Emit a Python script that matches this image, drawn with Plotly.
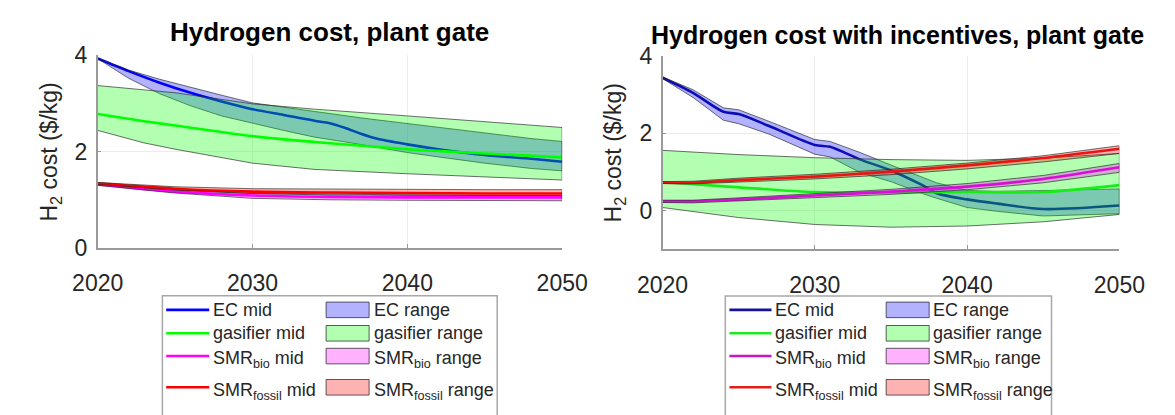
import plotly.graph_objects as go

# ---------------- data: left panel (plant gate) ----------------
L_EC_YEARS = [2020, 2022, 2024, 2026, 2028, 2030, 2032, 2034, 2035, 2036, 2037, 2038, 2040, 2042, 2045, 2048, 2050]
L_EC_MID = [3.93, 3.67, 3.43, 3.22, 3.04, 2.88, 2.76, 2.64, 2.59, 2.49, 2.37, 2.27, 2.15, 2.05, 1.93, 1.85, 1.79]
L_EC_HIGH = [3.93, 3.69, 3.50, 3.33, 3.17, 3.01, 2.92, 2.82, 2.78, 2.74, 2.70, 2.66, 2.58, 2.50, 2.38, 2.27, 2.21]
L_EC_LOW = [3.93, 3.52, 3.20, 2.95, 2.74, 2.59, 2.44, 2.30, 2.25, 2.20, 2.15, 2.09, 1.98, 1.89, 1.76, 1.65, 1.60]

L_GAS_YEARS = [2020, 2023, 2025, 2030, 2034, 2040, 2045, 2050]
L_GAS_MID = [2.78, 2.63, 2.54, 2.32, 2.20, 2.05, 1.96, 1.88]
L_GAS_HIGH = [3.37, 3.28, 3.22, 2.99, 2.88, 2.74, 2.62, 2.50]
L_GAS_LOW = [2.44, 2.18, 2.05, 1.76, 1.63, 1.54, 1.47, 1.41]

L_SMR_YEARS = [2020, 2025, 2030, 2035, 2040, 2045, 2050]
L_BIO_MID = [1.32, 1.17, 1.09, 1.06, 1.05, 1.05, 1.05]
L_BIO_HIGH = [1.34, 1.21, 1.13, 1.10, 1.09, 1.09, 1.09]
L_BIO_LOW = [1.30, 1.14, 1.03, 1.00, 0.99, 0.98, 0.98]
L_FOS_MID = [1.34, 1.23, 1.17, 1.15, 1.14, 1.13, 1.13]
L_FOS_HIGH = [1.36, 1.27, 1.23, 1.22, 1.21, 1.21, 1.21]
L_FOS_LOW = [1.32, 1.20, 1.13, 1.11, 1.10, 1.09, 1.09]

# ---------------- data: right panel (with incentives) ----------------
R_EC_YEARS = [2020, 2022, 2024, 2025, 2027, 2030, 2031, 2033, 2035, 2037, 2038, 2040, 2042, 2045, 2050]
R_EC_MID = [3.44, 3.05, 2.56, 2.50, 2.19, 1.70, 1.65, 1.32, 1.04, 0.67, 0.45, 0.29, 0.18, 0.04, 0.13]
R_EC_HIGH = [3.46, 3.13, 2.66, 2.61, 2.31, 1.84, 1.79, 1.50, 1.18, 0.86, 0.72, 0.52, 0.50, 0.52, 0.56]
R_EC_LOW = [3.42, 2.93, 2.34, 2.25, 1.98, 1.46, 1.39, 0.98, 0.75, 0.45, 0.32, 0.08, -0.02, -0.14, -0.08]

R_GAS_YEARS = [2020, 2025, 2030, 2035, 2040, 2045, 2050]
R_GAS_MID = [0.74, 0.60, 0.48, 0.47, 0.48, 0.48, 0.66]
R_GAS_HIGH = [1.56, 1.45, 1.37, 1.32, 1.30, 1.36, 1.48]
R_GAS_LOW = [0.08, -0.18, -0.36, -0.43, -0.40, -0.29, -0.10]

R_SMR_YEARS = [2020, 2022, 2025, 2030, 2035, 2040, 2045, 2050]
R_BIO_MID = [0.24, 0.24, 0.29, 0.39, 0.49, 0.62, 0.82, 1.12]
R_BIO_HIGH = [0.27, 0.27, 0.33, 0.44, 0.55, 0.70, 0.91, 1.22]
R_BIO_LOW = [0.21, 0.20, 0.24, 0.33, 0.42, 0.54, 0.72, 0.99]
R_FOS_MID = [0.72, 0.72, 0.79, 0.88, 1.01, 1.17, 1.36, 1.60]
R_FOS_HIGH = [0.75, 0.76, 0.84, 0.94, 1.07, 1.23, 1.42, 1.68]
R_FOS_LOW = [0.70, 0.69, 0.74, 0.82, 0.93, 1.08, 1.26, 1.48]

TITLES = ["Hydrogen cost, plant gate", "Hydrogen cost with incentives, plant gate"]
Y_TITLE = "H<sub>2</sub> cost ($/kg)"
X_TICKS = [2020, 2030, 2040, 2050]
L_Y_TICKS = [0, 2, 4]
R_Y_TICKS = [0, 2, 4]
NAMES = ["EC", "gasifier", "SMR<sub>bio</sub>", "SMR<sub>fossil</sub>"]

# ---------------- styling ----------------
W, H = 1175, 415
FONT = "Liberation Sans, Arial, Helvetica, sans-serif"
TXT = "#262626"
FILLS = ["rgba(0,0,255,0.3)", "rgba(0,255,0,0.3)", "rgba(255,0,255,0.3)", "rgba(255,0,0,0.3)"]
L_LINES = ["#0000ff", "#00ff00", "#ff00ff", "#ff0000"]
R_LINES = ["#14149a", "#22e622", "#c814c8", "#e01e1e"]
EDGE = "rgba(40,40,40,0.75)"

fig = go.Figure()


def add_series(years, mid, low, high, name, color, fill, xa, ya):
    fig.add_trace(go.Scatter(
        x=years, y=mid, mode="lines", name=name + " mid", showlegend=False,
        line=dict(color=color, width=2.6, shape="spline", smoothing=0.8),
        xaxis=xa, yaxis=ya, hoverinfo="skip"))
    fig.add_trace(go.Scatter(
        x=list(years) + list(years)[::-1], y=list(high) + list(low)[::-1],
        mode="lines", fill="toself", fillcolor=fill, name=name + " range", showlegend=False,
        line=dict(color=EDGE, width=0.9),
        xaxis=xa, yaxis=ya, hoverinfo="skip"))


left_sets = [
    (L_EC_YEARS, L_EC_MID, L_EC_LOW, L_EC_HIGH),
    (L_GAS_YEARS, L_GAS_MID, L_GAS_LOW, L_GAS_HIGH),
    (L_SMR_YEARS, L_BIO_MID, L_BIO_LOW, L_BIO_HIGH),
    (L_SMR_YEARS, L_FOS_MID, L_FOS_LOW, L_FOS_HIGH),
]
right_sets = [
    (R_EC_YEARS, R_EC_MID, R_EC_LOW, R_EC_HIGH),
    (R_GAS_YEARS, R_GAS_MID, R_GAS_LOW, R_GAS_HIGH),
    (R_SMR_YEARS, R_BIO_MID, R_BIO_LOW, R_BIO_HIGH),
    (R_SMR_YEARS, R_FOS_MID, R_FOS_LOW, R_FOS_HIGH),
]
for i, (yrs, m, lo, hi) in enumerate(left_sets):
    add_series(yrs, m, lo, hi, NAMES[i], L_LINES[i], FILLS[i], "x", "y")
for i, (yrs, m, lo, hi) in enumerate(right_sets):
    add_series(yrs, m, lo, hi, NAMES[i], R_LINES[i], FILLS[i], "x2", "y2")


def xaxis_style(dom, anchor):
    return dict(domain=[dom[0] / W, dom[1] / W], anchor=anchor, range=[2020, 2050],
                tickvals=X_TICKS, ticks="inside", ticklen=4, tickcolor="#9a9a9a",
                showline=True, linecolor="#9a9a9a", linewidth=1.5, showgrid=True,
                gridcolor="#ececec", gridwidth=1, zeroline=False,
                tickfont=dict(family=FONT, size=23, color=TXT), ticklabelstandoff=14)


def yaxis_style(dom, anchor, rng, ticks):
    return dict(domain=[1 - dom[1] / H, 1 - dom[0] / H], anchor=anchor, range=rng,
                tickvals=ticks, ticks="inside", ticklen=4, tickcolor="#9a9a9a",
                showline=True, linecolor="#9a9a9a", linewidth=1.5, showgrid=True,
                gridcolor="#ececec", gridwidth=1, zeroline=False,
                tickfont=dict(family=FONT, size=23, color=TXT), ticklabelstandoff=4)


fig.update_layout(
    width=W, height=H, margin=dict(l=0, r=0, t=0, b=0),
    paper_bgcolor="white", plot_bgcolor="white", showlegend=False,
    xaxis=xaxis_style((75, 561), "y"),
    yaxis=yaxis_style((45, 250.7), "x", [0, 4], L_Y_TICKS),
    xaxis2=xaxis_style((666, 1144), "y2"),
    yaxis2=yaxis_style((46, 252), "x2", [-1, 4], R_Y_TICKS),
)


def px(xp, yp):
    return xp / W, 1 - yp / H


# ---------------- legends (keys drawn as paper shapes, labels as text) ----------------
ROWS = [316.7, 341.7, 366.0, 399.3]
SUB_SHIFT = [0, 0, 4, 4]
LEGENDS = [
    # frame x0, x1, top, line key x0, x1, text x, rect key x0, x1, text x, line colours
    (142.7, 493, 301.7, 146.7, 191.7, 195, 314, 359, 362.7, L_LINES),
    (731.7, 1073, 302.0, 736, 780, 782.7, 900, 945, 947.7, R_LINES),
]
for fx0, fx1, ftop, lx0, lx1, ltx, rx0, rx1, rtx, lcols in LEGENDS:
    a, b = px(fx0, ftop)
    c, _ = px(fx1, ftop)
    fig.add_shape(type="rect", xref="paper", yref="paper", x0=a, x1=c, y0=b, y1=-0.2,
                  line=dict(color="#a8a8a8", width=1.5), fillcolor="white", layer="above")
    for i, ry in enumerate(ROWS):
        x0, y0 = px(lx0, ry)
        x1, _ = px(lx1, ry)
        fig.add_shape(type="line", xref="paper", yref="paper", x0=x0, x1=x1, y0=y0, y1=y0,
                      line=dict(color=lcols[i], width=2.6), layer="above")
        rx0p, ry0p = px(rx0, ry - 8.3)
        rx1p, ry1p = px(rx1, ry + 8.3)
        fig.add_shape(type="rect", xref="paper", yref="paper", x0=rx0p, x1=rx1p, y0=ry0p, y1=ry1p,
                      line=dict(color=EDGE, width=1), fillcolor=FILLS[i], layer="above")
        for tx, label in [(ltx, NAMES[i] + " mid"), (rtx, NAMES[i] + " range")]:
            xx, yy = px(tx, ry + SUB_SHIFT[i])
            fig.add_annotation(text=label, xref="paper", yref="paper", x=xx, y=yy,
                               xanchor="left", yanchor="middle", showarrow=False, borderpad=0,
                               font=dict(family=FONT, size=18, color=TXT))

# titles
for txt, cx, cy, fs in [(TITLES[0], 318, 20, 26), (TITLES[1], 912, 24, 25)]:
    xx, yy = px(cx, cy)
    fig.add_annotation(text="<b>" + txt + "</b>", xref="paper", yref="paper",
                       x=xx, y=yy, xanchor="center", yanchor="middle", borderpad=0,
                       showarrow=False, font=dict(family=FONT, size=fs, color="#000000"))

# y-axis titles
for cx, cy in [(26, 148), (616, 149)]:
    xx, yy = px(cx, cy)
    fig.add_annotation(text=Y_TITLE, xref="paper", yref="paper",
                       x=xx, y=yy, xanchor="center", yanchor="middle",
                       textangle=-90, showarrow=False, borderpad=0,
                       font=dict(family=FONT, size=23, color=TXT))

fig.write_html("out.html")
